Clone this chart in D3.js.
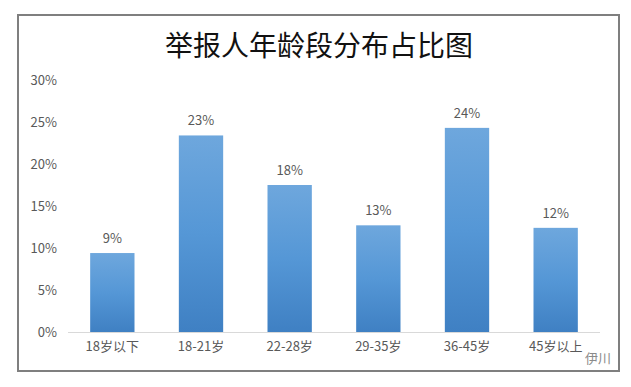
<!DOCTYPE html>
<html>
<head>
<meta charset="utf-8">
<script src="https://cdn.jsdelivr.net/npm/d3@7"></script>
<style>
  html, body { margin: 0; padding: 0; background: #fff; }
  svg { display: block; }
</style>
</head>
<body>
<div id="chart"></div>
<script>
// Chart data
const categories = ['18岁以下', '18-21岁', '22-28岁', '29-35岁', '36-45岁', '45岁以上'];
const shares = [9.4, 23.4, 17.5, 12.7, 24.3, 12.4];
const shareLabels = ['9%', '23%', '18%', '13%', '24%', '12%'];
const yTicks = [0, 5, 10, 15, 20, 25, 30];

const width = 631;
const height = 387;
const fontFamily = '"Noto Sans CJK SC", "Open Sans", sans-serif';
const textColor = '#595959';

const svg = d3.select('#chart')
  .append('svg')
  .attr('width', width)
  .attr('height', height);

// Bar gradient, lighter on top like the Excel style
const grad = svg.append('defs').append('linearGradient')
  .attr('id', 'barFill')
  .attr('x1', 0).attr('y1', 0).attr('x2', 0).attr('y2', 1);
grad.append('stop').attr('offset', '0%').attr('stop-color', '#6ea7dd');
grad.append('stop').attr('offset', '50%').attr('stop-color', '#5597d6');
grad.append('stop').attr('offset', '100%').attr('stop-color', '#3f80c3');

// Outer frame
svg.append('rect')
  .attr('x', 18).attr('y', 15)
  .attr('width', 601).attr('height', 356)
  .attr('fill', '#fff')
  .attr('stroke', '#7f7f7f')
  .attr('stroke-width', 2);

// Title
svg.append('text')
  .attr('x', 319)
  .attr('y', 56)
  .attr('text-anchor', 'middle')
  .style('font-family', '"Noto Sans CJK SC", serif')
  .style('font-size', '28px')
  .style('font-weight', 400)
  .style('fill', '#111')
  .text('举报人年龄段分布占比图');

const x = d3.scaleBand()
  .domain(categories)
  .range([68, 600])
  .paddingInner(0.5)
  .paddingOuter(0.25);

const y = d3.scaleLinear()
  .domain([0, 30])
  .range([332, 80]);

// Y axis labels (no line)
const yAxis = svg.append('g')
  .attr('transform', 'translate(57,0)')
  .call(d3.axisLeft(y).tickValues(yTicks).tickSize(0).tickPadding(0).tickFormat((d) => `${d}%`));
yAxis.select('.domain').remove();
yAxis.selectAll('text')
  .style('font-family', fontFamily)
  .style('font-size', '13px')
  .style('fill', textColor);

// Baseline
svg.append('line')
  .attr('x1', 68).attr('x2', 600)
  .attr('y1', y(0) + 0.5).attr('y2', y(0) + 0.5)
  .attr('stroke', '#d9d9d9')
  .attr('stroke-width', 1);

// Bars
svg.append('g')
  .selectAll('rect')
  .data(shares)
  .join('rect')
  .attr('x', (d, i) => x(categories[i]))
  .attr('y', (d) => y(d))
  .attr('width', x.bandwidth())
  .attr('height', (d) => y(0) - y(d))
  .attr('fill', 'url(#barFill)');

// Value labels
svg.append('g')
  .selectAll('text')
  .data(shares)
  .join('text')
  .attr('x', (d, i) => x(categories[i]) + x.bandwidth() / 2)
  .attr('y', (d) => y(d) - 10)
  .attr('text-anchor', 'middle')
  .style('font-family', fontFamily)
  .style('font-size', '13px')
  .style('fill', textColor)
  .text((d, i) => shareLabels[i]);

// X axis labels
const xAxis = svg.append('g')
  .attr('transform', `translate(0,${y(0)})`)
  .call(d3.axisBottom(x).tickSize(0).tickPadding(10));
xAxis.select('.domain').remove();
xAxis.selectAll('text')
  .style('font-family', fontFamily)
  .style('font-size', '13px')
  .style('fill', textColor);

// Watermark
svg.append('text')
  .attr('x', 598)
  .attr('y', 363)
  .attr('text-anchor', 'middle')
  .style('font-family', fontFamily)
  .style('font-size', '13px')
  .style('fill', '#8a8a8a')
  .text('伊川');
</script>
</body>
</html>
